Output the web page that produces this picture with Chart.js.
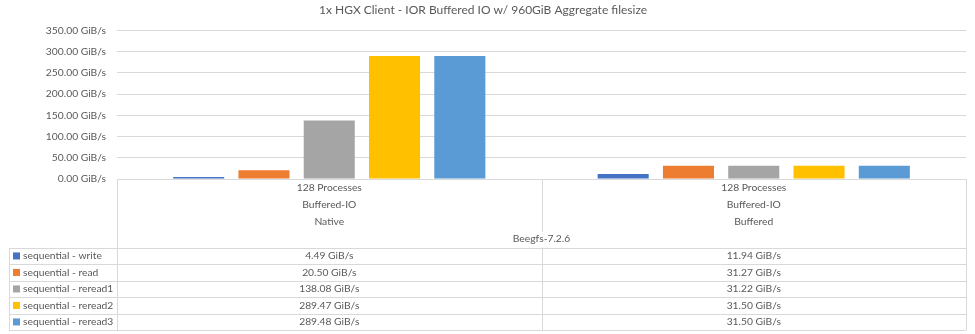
<!DOCTYPE html>
<html>
<head>
<meta charset="utf-8">
<script src="https://cdn.jsdelivr.net/npm/chart.js@4/dist/chart.umd.min.js"></script>
<style>
  html, body { margin: 0; padding: 0; background: #fff; }
  #wrap { width: 975px; height: 334px; position: relative; }
</style>
</head>
<body>
<div id="wrap"><canvas id="chart"></canvas></div>
<script>
const categories = [
    ['128 Processes', 'Buffered-IO', 'Native'],
    ['128 Processes', 'Buffered-IO', 'Buffered']
];
const groupLabel = 'Beegfs-7.2.6';
const seriesNames = [
    'sequential - write',
    'sequential - read',
    'sequential - reread1',
    'sequential - reread2',
    'sequential - reread3'
];
const writeValues = [4.49, 11.94];
const readValues = [20.50, 31.27];
const reread1Values = [138.08, 31.22];
const reread2Values = [289.47, 31.50];
const reread3Values = [289.48, 31.50];
const yTicks = [0, 50, 100, 150, 200, 250, 300, 350];

(function () {
    "use strict";

    const textColor = '#595959';
    const lineColor = '#d9d9d9';
    const fontFamily = 'Lato, "Open Sans", sans-serif';
    const fontSize = 10.3;
    const colors = ['#4472c4', '#ed7d31', '#a5a5a5', '#ffc000', '#5b9bd5'];
    const seriesValues = [writeValues, readValues, reread1Values, reread2Values, reread3Values];

    function gib(v) {
        return v.toFixed(2) + ' GiB/s';
    }

    // excel style data table under the plot, columns follow the x scale
    const dataTable = {
        id: 'dataTable',
        afterDraw(chart) {
            const ctx = chart.ctx;
            const area = chart.chartArea;
            const xs = chart.scales.x;
            const n = categories.length;

            const centers = categories.map((c, i) => xs.getPixelForValue(i));
            const edges = [area.left];
            for (let i = 1; i < n; i++) {
                edges.push((centers[i - 1] + centers[i]) / 2);
            }
            edges.push(area.right);

            const top = area.bottom;
            const rowsTop = top + 68.7;
            const rowH = 16.5;
            const bottom = rowsTop + rowH * seriesNames.length;
            const keyLeft = 9;

            ctx.save();
            ctx.strokeStyle = lineColor;
            ctx.lineWidth = 1;
            ctx.beginPath();
            ctx.moveTo(area.left, Math.round(top) + 0.5);
            ctx.lineTo(area.right, Math.round(top) + 0.5);
            for (let r = 0; r <= seriesNames.length; r++) {
                const y = Math.round(rowsTop + r * rowH) + 0.5;
                ctx.moveTo(keyLeft, y);
                ctx.lineTo(area.right, y);
            }
            ctx.moveTo(keyLeft + 0.5, rowsTop);
            ctx.lineTo(keyLeft + 0.5, bottom);
            edges.forEach((x, i) => {
                const px = Math.round(x) + 0.5;
                if (i > 0 && i < n) {
                    // inner boundary stops above the group label
                    ctx.moveTo(px, top);
                    ctx.lineTo(px, top + 53);
                    ctx.moveTo(px, rowsTop);
                    ctx.lineTo(px, bottom);
                } else {
                    ctx.moveTo(px, top);
                    ctx.lineTo(px, bottom);
                }
            });
            ctx.stroke();

            ctx.fillStyle = textColor;
            ctx.font = fontSize + 'px ' + fontFamily;
            ctx.textAlign = 'center';
            ctx.textBaseline = 'middle';
            categories.forEach((lines, i) => {
                lines.forEach((t, j) => {
                    ctx.fillText(t, centers[i], top + 8.5 + j * 17.2);
                });
            });
            ctx.fillText(groupLabel, (area.left + area.right) / 2, top + 60);

            seriesNames.forEach((name, r) => {
                const cy = rowsTop + r * rowH + rowH / 2;
                ctx.fillStyle = colors[r];
                ctx.fillRect(keyLeft + 4, cy - 3.5, 7, 7);
                ctx.fillStyle = textColor;
                ctx.textAlign = 'left';
                ctx.fillText(name, keyLeft + 14, cy);
                ctx.textAlign = 'center';
                seriesValues[r].forEach((v, i) => {
                    ctx.fillText(gib(v), centers[i], cy);
                });
            });
            ctx.restore();
        }
    };

    const datasets = seriesNames.map((name, i) => ({
        label: name,
        data: seriesValues[i],
        backgroundColor: colors[i],
        borderWidth: 0,
        categoryPercentage: 0.769,
        barPercentage: 0.782
    }));

    new Chart(document.getElementById('chart'), {
        type: 'bar',
        data: {
            labels: categories.map(c => c.join(' ')),
            datasets: datasets
        },
        plugins: [dataTable],
        options: {
            responsive: true,
            maintainAspectRatio: false,
            animation: false,
            layout: {
                padding: { left: 0, right: 9, top: 0, bottom: 155 }
            },
            plugins: {
                legend: { display: false },
                tooltip: { enabled: false },
                title: {
                    display: true,
                    text: '1x HGX Client - IOR Buffered IO w/ 960GiB Aggregate filesize',
                    color: textColor,
                    font: { family: fontFamily, size: 12, weight: 'normal' },
                    padding: { top: 3, bottom: 13 }
                }
            },
            scales: {
                x: {
                    grid: { display: false, drawTicks: false },
                    border: { display: false },
                    ticks: { display: false }
                },
                y: {
                    min: yTicks[0],
                    max: yTicks[yTicks.length - 1],
                    afterBuildTicks(scale) {
                        scale.ticks = yTicks.map(v => ({ value: v }));
                    },
                    afterFit(scale) {
                        scale.width = 117;
                    },
                    grid: { color: lineColor, drawTicks: false },
                    border: { display: false },
                    ticks: {
                        color: textColor,
                        padding: 11,
                        font: { family: fontFamily, size: fontSize },
                        callback: v => gib(v)
                    }
                }
            }
        }
    });
})();
</script>
</body>
</html>
